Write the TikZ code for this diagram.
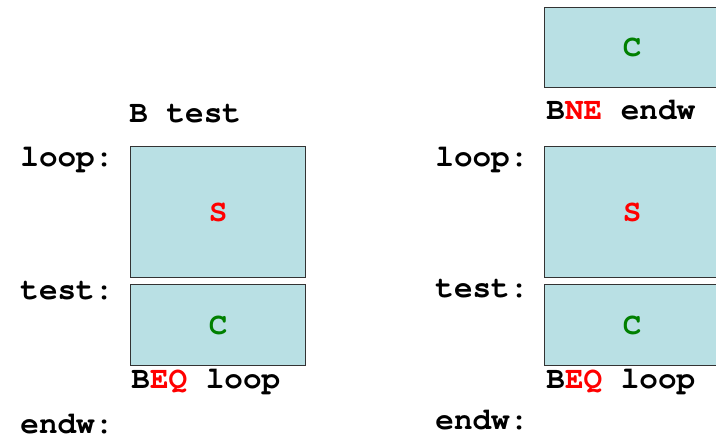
\documentclass[tikz,border=0pt]{standalone}
\usepackage{fontspec}
\setmonofont{TeX Gyre Cursor}
\definecolor{boxfill}{RGB}{185,224,228}
\definecolor{kwred}{RGB}{255,0,0}
\definecolor{kwgreen}{RGB}{0,128,0}

\begin{document}
\begin{tikzpicture}[
  x=0.5pt, y=-0.5pt,
  blk/.style={draw=black!80, line width=0.6pt, fill=boxfill, anchor=north west,
    minimum width=87.5pt, inner sep=0pt, font=\ttfamily\bfseries\fontsize{15.5}{18}\selectfont},
  code/.style={anchor=base west, inner sep=0pt, font=\ttfamily\bfseries\fontsize{15.5}{18}\selectfont}
]
  \clip (0,0) rectangle (716,440);

  % while loop, test at the bottom
  \node[code] (btest) at (129,122) {B test};
  \node[code] (lloop) at (20,166) {loop:};
  \node[blk, minimum height=65.5pt] (ls) at (130,146) {\textcolor{kwred}{S}};
  \node[code] (ltest) at (20,299) {test:};
  \node[blk, minimum height=40.5pt] (lc) at (130,284) {\textcolor{kwgreen}{C}};
  \node[code] (lbeq) at (131,388) {B\textcolor{kwred}{EQ} loop};
  \node[code] (lendw) at (20,433) {endw:};

  % same loop, test also up front
  \node[blk, minimum height=40pt] (rc0) at (544,7) {\textcolor{kwgreen}{C}};
  \node[code] (rbne) at (546,119) {B\textcolor{kwred}{NE} endw};
  \node[code] (rloop) at (435,166) {loop:};
  \node[blk, minimum height=65.5pt] (rs) at (544,146) {\textcolor{kwred}{S}};
  \node[code] (rtest) at (435,297) {test:};
  \node[blk, minimum height=40.5pt] (rc) at (544,284) {\textcolor{kwgreen}{C}};
  \node[code] (rbeq) at (546,388) {B\textcolor{kwred}{EQ} loop};
  \node[code] (rendw) at (435,429) {endw:};
\end{tikzpicture}
\end{document}
